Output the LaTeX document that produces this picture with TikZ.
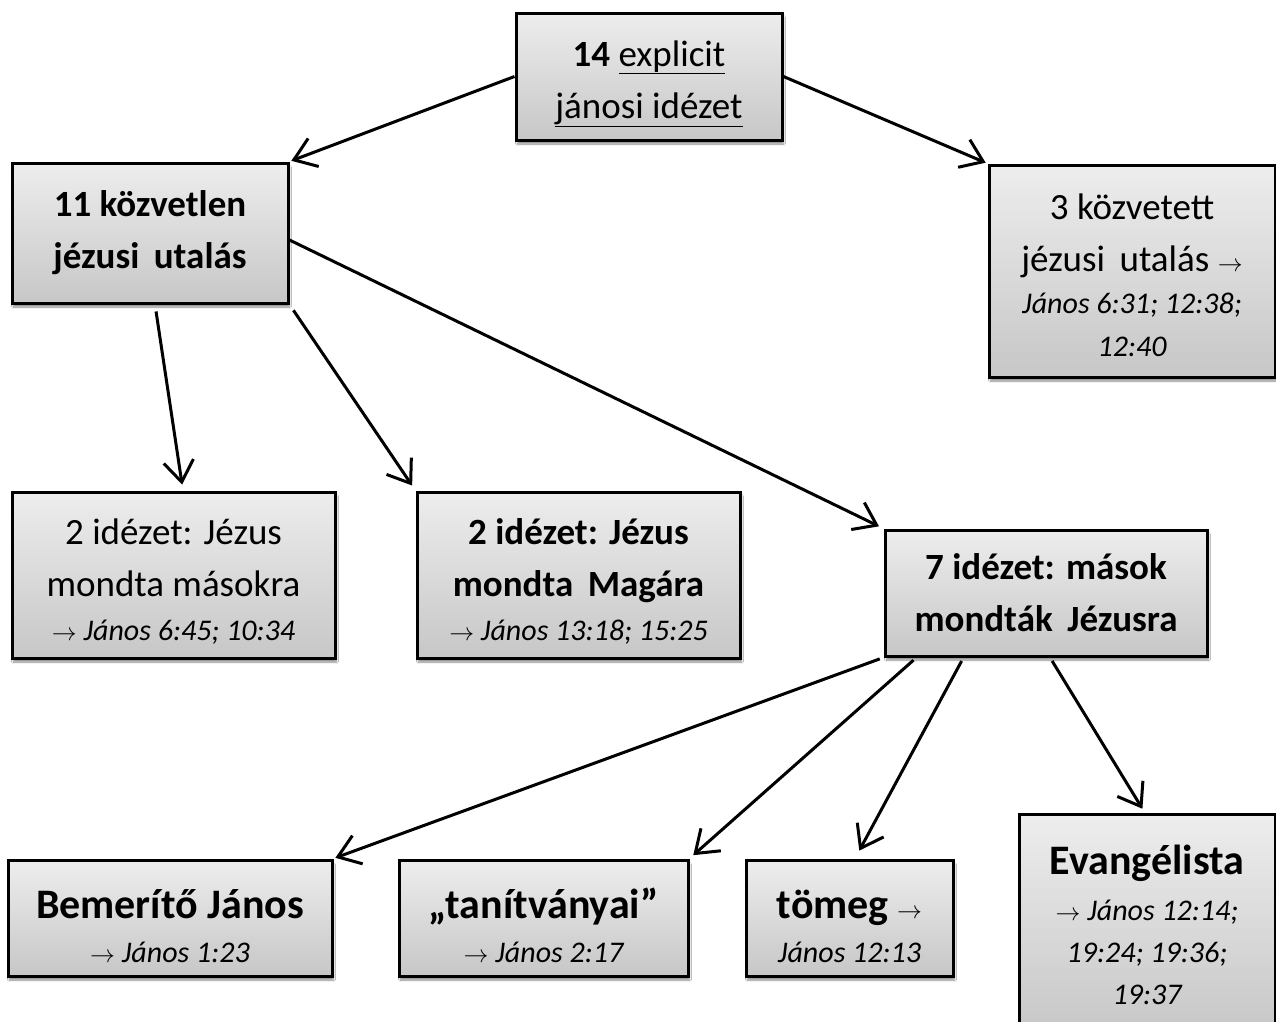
\documentclass[tikz,border=0pt]{standalone}
\usepackage{fontspec}
\setmainfont{Carlito}
\usetikzlibrary{arrows.meta,shadows.blur}
\newcommand{\myarr}{\ensuremath{\rightarrow}}
\newcommand{\st}[1]{\rule{0pt}{#1}}
\tikzset{
  box/.style={draw=black, line width=3pt, top color=gray!14, bottom color=gray!44,
    align=center, inner sep=0pt, text=black,
    blur shadow={shadow blur steps=6, shadow xshift=1.5pt, shadow yshift=-4pt, shadow opacity=45}},
  conn/.style={line width=3pt, -{Straight Barb[length=21pt,width=30pt,line width=3pt]}},
  big/.style={font=\fontsize{37}{52}\selectfont},
}
\newcommand{\refs}[1]{{\fontsize{30}{44}\selectfont\itshape #1}}
\newcommand{\hd}[1]{{\fontsize{42}{50}\selectfont\textbf{#1}}}
\begin{document}
\begin{tikzpicture}[x=1pt,y=1pt]
\useasboundingbox (0,0) rectangle (1276,-1021);
\fill[white] (0,0) rectangle (1276,-1021);
\node[box,big,minimum width=266pt,minimum height=127pt] (top) at (649,-76.5)
  {\st{40pt}\textbf{14} \underline{explicit}\\ \underline{jánosi idézet}};
\node[box,big,minimum width=276pt,minimum height=140pt] (L) at (150,-233)
  {\textbf{11 közvetlen}\\ \textbf{jézusi\, utalás}};
\node[box,big,minimum width=286pt,minimum height=212pt] (R) at (1132,-271)
  {\st{34pt}3 közvetett\\ jézusi\, utalás \myarr\\[-10pt] \refs{János 6:31; 12:38;}\\[-9pt] \refs{12:40}};
\node[box,big,minimum width=323pt,minimum height=166pt] (A) at (173.5,-575)
  {\st{38pt}2 idézet: Jézus\\ mondta másokra\\[-8pt] \refs{\myarr\ János 6:45; 10:34}};
\node[box,big,minimum width=323pt,minimum height=166pt] (B) at (578.5,-575)
  {\st{38pt}\textbf{2 idézet: Jézus}\\ \textbf{mondta\, Magára}\\[-8pt] \refs{\myarr\ János 13:18; 15:25}};
\node[box,big,minimum width=322pt,minimum height=126pt] (S) at (1046,-593)
  {\textbf{7 idézet: mások}\\ \textbf{mondták\, Jézusra}};
\node[box,big,minimum width=324pt,minimum height=116pt] (BJ) at (170,-918)
  {\st{46pt}\hd{Bemerítő János}\\[-8pt] \refs{\myarr\ János 1:23}};
\node[box,big,minimum width=289pt,minimum height=116pt] (T) at (543.5,-918)
  {\st{46pt}\hd{„tanítványai”}\\[-8pt] \refs{\myarr\ János 2:17}};
\node[box,big,minimum width=207pt,minimum height=116pt] (TM) at (849.5,-918)
  {\st{46pt}\hd{tömeg} \myarr\\[-8pt] \refs{János 12:13}};
\node[box,big,minimum width=256pt,minimum height=220pt,anchor=north] (EV) at (1147,-813)
  {\hd{Evangélista}\\[-6pt] \refs{\myarr\ János 12:14;}\\[-10pt] \refs{19:24; 19:36;}\\[-10pt] \refs{19:37}};
\draw[conn, shorten >=2pt] (top.west) -- (L.north east);
\draw[conn, shorten >=2pt] (top.east) -- (R.north west);
\draw[conn, shorten <=7pt, shorten >=6pt] ([xshift=5pt]L.south) -- ([xshift=9.5pt]A.north);
\draw[conn, shorten <=7pt, shorten >=6pt] (L.south east) -- (B.north west);
\draw[conn, shorten >=5pt] ([yshift=-7pt]L.east) -- (S.north west);
\draw[conn, shorten <=4pt, shorten >=2pt] (S.south west) -- (BJ.north east);
\draw[conn, shorten <=4pt, shorten >=5pt] ([xshift=33pt]S.south west) -- (T.north east);
\draw[conn, shorten <=4pt, shorten >=9pt] ([xshift=80pt]S.south west) -- ([xshift=5.5pt]TM.north);
\draw[conn, shorten <=4pt, shorten >=5pt] ([xshift=4pt]S.south) -- ([xshift=-2pt]EV.north);
\end{tikzpicture}
\end{document}
